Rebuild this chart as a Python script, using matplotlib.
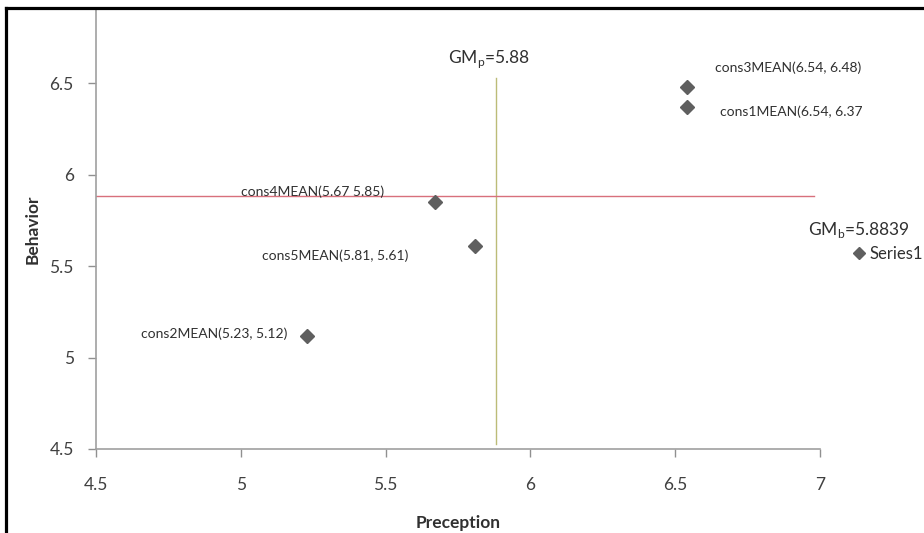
import matplotlib
matplotlib.use('Agg')
import matplotlib.pyplot as plt
from matplotlib.lines import Line2D

# construct means (perception, behavior)
cons_names = ['cons1MEAN', 'cons2MEAN', 'cons3MEAN', 'cons4MEAN', 'cons5MEAN']
perception = [6.54, 5.23, 6.54, 5.67, 5.81]
behavior = [6.37, 5.12, 6.48, 5.85, 5.61]
point_labels = ['cons1MEAN(6.54, 6.37', 'cons2MEAN(5.23, 5.12)', 'cons3MEAN(6.54, 6.48)',
                'cons4MEAN(5.67 5.85)', 'cons5MEAN(5.81, 5.61)']

# grand means
gm_p = 5.88
gm_b = 5.8839
gm_p_span = [4.53, 6.53]
gm_b_span = [4.5, 6.98]

x_ticks = [4.5, 5, 5.5, 6, 6.5, 7]
y_ticks = [4.5, 5, 5.5, 6, 6.5]

plt.rcParams['font.family'] = ['Lato', 'DejaVu Sans']

fig = plt.figure(figsize=(9.24, 5.33), dpi=100)
ax = fig.add_axes([96 / 924, 1 - 449 / 533, 724 / 924, 439 / 533])

# grand mean reference lines
ax.plot([gm_p, gm_p], gm_p_span, color='#bcbc78', lw=1.0, zorder=1)
ax.plot(gm_b_span, [gm_b, gm_b], color='#d8707c', lw=1.0, zorder=1)

ax.plot(perception, behavior, linestyle='none', marker='D', markersize=7,
        color='#5f5f5f', label='Series1', zorder=3)

# label offsets in pixels (dx, dy, alignment)
offsets = [(33, -5, 'left'), (-20, 2, 'right'), (28, 19, 'left'),
           (-51, 10, 'right'), (-67, -10, 'right')]
for x, y, txt, (dx, dy, ha) in zip(perception, behavior, point_labels, offsets):
    ax.annotate(txt, (x, y), xytext=(dx, dy), textcoords='offset pixels',
                ha=ha, va='center', fontsize=10, color='#303030')

ax.annotate(r'GM$_\mathregular{p}$=5.88', (gm_p, gm_p_span[1]), xytext=(-7, 19),
            textcoords='offset pixels', ha='center', va='center',
            fontsize=12.5, color='#303030')
ax.annotate(r'GM$_\mathregular{b}$=5.8839', (1.054, 0.499), xycoords='axes fraction',
            ha='center', va='center', fontsize=12.5, color='#303030',
            annotation_clip=False)

ax.set_xlim(4.5, 7)
ax.set_ylim(4.5, 6.9)
ax.set_xticks(x_ticks)
ax.set_xticklabels([f'{t:g}' for t in x_ticks])
ax.set_yticks(y_ticks)
ax.set_yticklabels([f'{t:g}' for t in y_ticks])
ax.tick_params(axis='both', direction='out', length=6, width=1, color='#909090',
               labelsize=12.5, labelcolor='#404040', pad=10)
ax.tick_params(axis='x', pad=14)

for side in ['top', 'right']:
    ax.spines[side].set_visible(False)
for side in ['left', 'bottom']:
    ax.spines[side].set_color('#a0a0a0')
    ax.spines[side].set_linewidth(1.2)

ax.set_xlabel('Preception', fontsize=12.5, fontweight='bold', color='#303030', labelpad=16)
ax.set_ylabel('Behavior', fontsize=12.5, fontweight='bold', color='#303030', labelpad=6)

ax.legend(loc='center left', bbox_to_anchor=(1.047, 0.444), frameon=False,
          handlelength=0.6, handletextpad=0.3, borderpad=0, borderaxespad=0,
          fontsize=12, labelcolor='#303030', markerscale=0.85)

# outer frame (top and left edges)
fig.add_artist(Line2D([6 / 924, 6 / 924], [0, 1 - 8 / 533], transform=fig.transFigure,
                      color='black', lw=2.3))
fig.add_artist(Line2D([6 / 924, 1], [1 - 8 / 533, 1 - 8 / 533], transform=fig.transFigure,
                      color='black', lw=2.3))

fig.savefig('out.png', dpi=100, facecolor='white')
